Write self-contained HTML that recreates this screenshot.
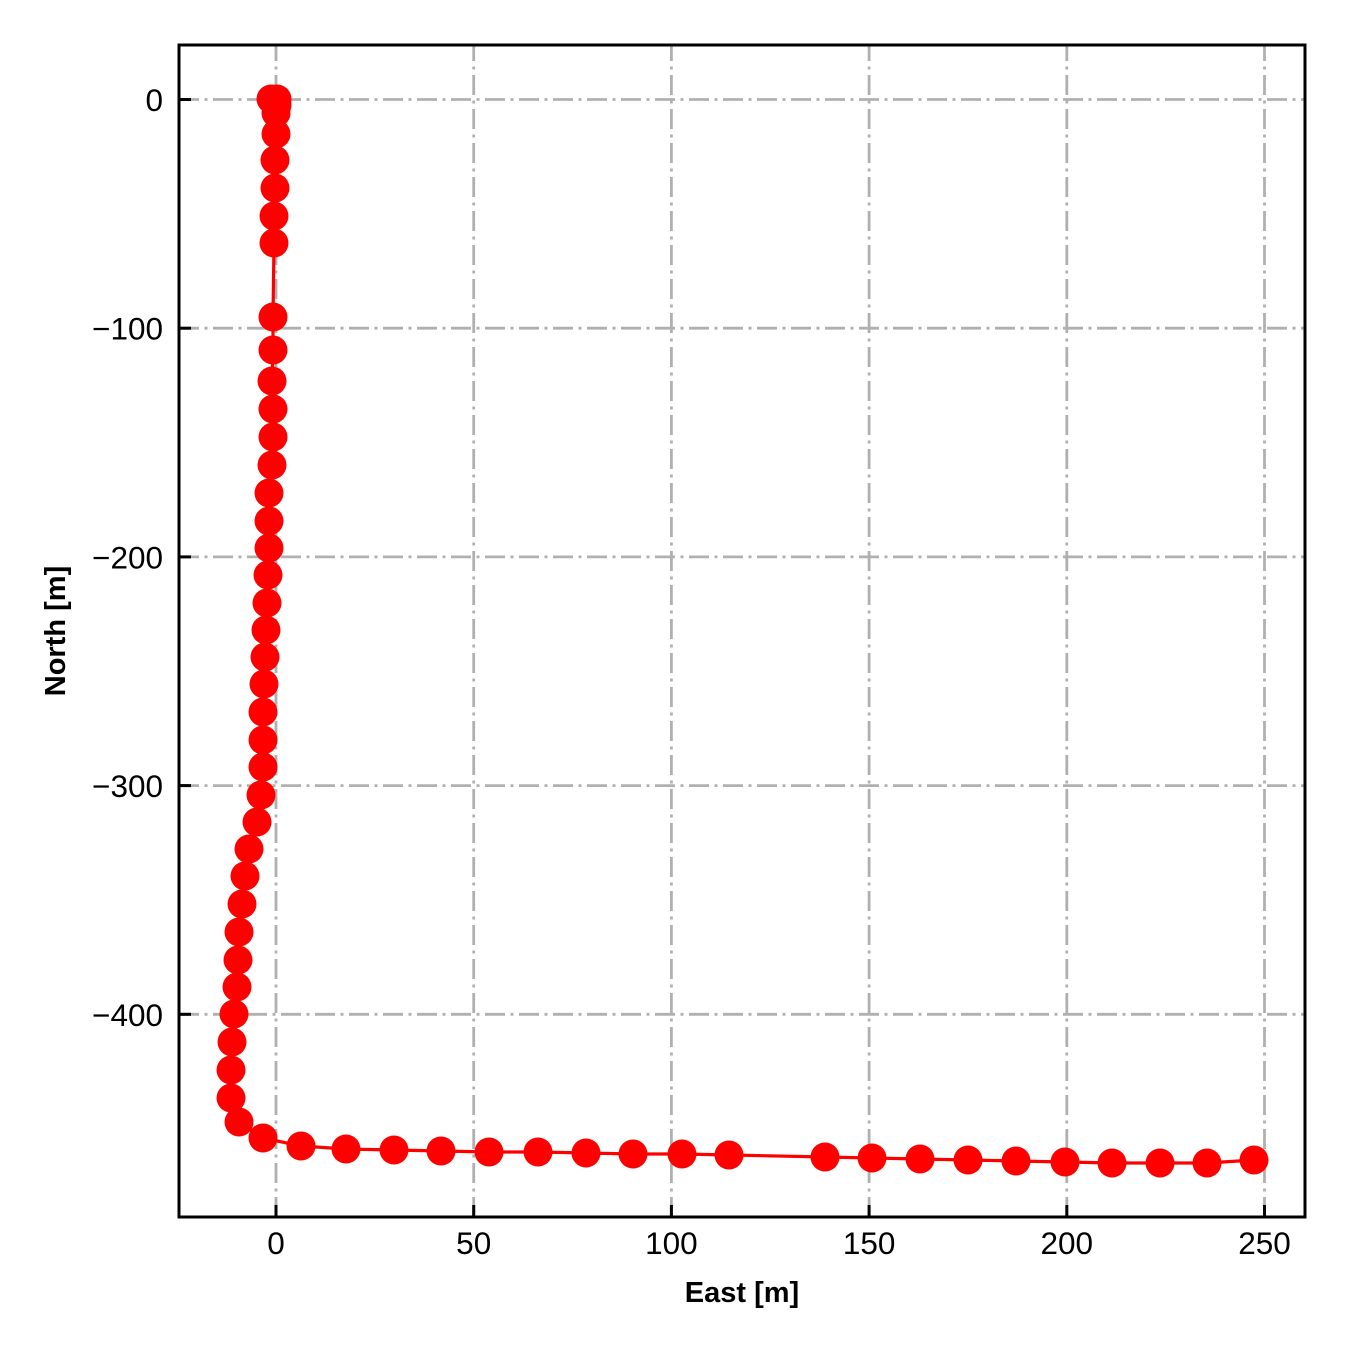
<!DOCTYPE html>
<html><head><meta charset="utf-8"><style>
html,body{margin:0;padding:0;background:#fff;}
svg{display:block;}
text{font-family:"Liberation Sans",Arial,sans-serif;fill:#000;}
</style></head><body>
<svg width="1350" height="1350" viewBox="0 0 1350 1350" xmlns="http://www.w3.org/2000/svg">
<rect x="0" y="0" width="1350" height="1350" fill="#fff"/>
<g stroke="#b0b0b0" stroke-width="2.8" stroke-dasharray="20 5.5 3 5.5" fill="none">
<line x1="179" y1="99.5" x2="1305" y2="99.5"/>
<line x1="179" y1="328.2" x2="1305" y2="328.2"/>
<line x1="179" y1="556.9" x2="1305" y2="556.9"/>
<line x1="179" y1="785.6" x2="1305" y2="785.6"/>
<line x1="179" y1="1014.3" x2="1305" y2="1014.3"/>
<line x1="276" y1="1217" x2="276" y2="45"/>
<line x1="473.7" y1="1217" x2="473.7" y2="45"/>
<line x1="671.4" y1="1217" x2="671.4" y2="45"/>
<line x1="869.1" y1="1217" x2="869.1" y2="45"/>
<line x1="1066.8" y1="1217" x2="1066.8" y2="45"/>
<line x1="1264.5" y1="1217" x2="1264.5" y2="45"/>
</g>
<polyline fill="none" stroke="#ff0000" stroke-width="3.2" stroke-linejoin="round" points="271,99 277,99 277,105 276,113 276,134 275,160 275,188 274,216 274,243 273,317 273,350 272,381 273,409 273,437 272,465 269,493 269,521 269,548 268,575 267,603 266,630 265,657 264,684 263,712 263,740 263,767 261,795 257,822 249,849 245,876 242,904 239,932 238,960 237,987 234,1014 232,1042 231,1070 231,1098 239,1122 263,1138 301,1146 346,1149 394,1150 441,1151 489,1152 538,1152 586,1153 633,1154 682,1154 729,1155 825,1157 872,1158 920,1159 968,1160 1016,1161 1065,1162 1112,1163 1160,1163 1207,1163 1254,1160"/>
<g fill="#ff0000">
<circle cx="271" cy="99" r="14.5"/><circle cx="277" cy="99" r="14.5"/><circle cx="277" cy="105" r="14.5"/><circle cx="276" cy="113" r="14.5"/>
<circle cx="276" cy="134" r="14.5"/><circle cx="275" cy="160" r="14.5"/><circle cx="275" cy="188" r="14.5"/><circle cx="274" cy="216" r="14.5"/>
<circle cx="274" cy="243" r="14.5"/><circle cx="273" cy="317" r="14.5"/><circle cx="273" cy="350" r="14.5"/><circle cx="272" cy="381" r="14.5"/>
<circle cx="273" cy="409" r="14.5"/><circle cx="273" cy="437" r="14.5"/><circle cx="272" cy="465" r="14.5"/><circle cx="269" cy="493" r="14.5"/>
<circle cx="269" cy="521" r="14.5"/><circle cx="269" cy="548" r="14.5"/><circle cx="268" cy="575" r="14.5"/><circle cx="267" cy="603" r="14.5"/>
<circle cx="266" cy="630" r="14.5"/><circle cx="265" cy="657" r="14.5"/><circle cx="264" cy="684" r="14.5"/><circle cx="263" cy="712" r="14.5"/>
<circle cx="263" cy="740" r="14.5"/><circle cx="263" cy="767" r="14.5"/><circle cx="261" cy="795" r="14.5"/><circle cx="257" cy="822" r="14.5"/>
<circle cx="249" cy="849" r="14.5"/><circle cx="245" cy="876" r="14.5"/><circle cx="242" cy="904" r="14.5"/><circle cx="239" cy="932" r="14.5"/>
<circle cx="238" cy="960" r="14.5"/><circle cx="237" cy="987" r="14.5"/><circle cx="234" cy="1014" r="14.5"/><circle cx="232" cy="1042" r="14.5"/>
<circle cx="231" cy="1070" r="14.5"/><circle cx="231" cy="1098" r="14.5"/><circle cx="239" cy="1122" r="14.5"/><circle cx="263" cy="1138" r="14.5"/>
<circle cx="301" cy="1146" r="14.5"/><circle cx="346" cy="1149" r="14.5"/><circle cx="394" cy="1150" r="14.5"/><circle cx="441" cy="1151" r="14.5"/>
<circle cx="489" cy="1152" r="14.5"/><circle cx="538" cy="1152" r="14.5"/><circle cx="586" cy="1153" r="14.5"/><circle cx="633" cy="1154" r="14.5"/>
<circle cx="682" cy="1154" r="14.5"/><circle cx="729" cy="1155" r="14.5"/><circle cx="825" cy="1157" r="14.5"/><circle cx="872" cy="1158" r="14.5"/>
<circle cx="920" cy="1159" r="14.5"/><circle cx="968" cy="1160" r="14.5"/><circle cx="1016" cy="1161" r="14.5"/><circle cx="1065" cy="1162" r="14.5"/>
<circle cx="1112" cy="1163" r="14.5"/><circle cx="1160" cy="1163" r="14.5"/><circle cx="1207" cy="1163" r="14.5"/><circle cx="1254" cy="1160" r="14.5"/>
</g>
<g stroke="#000" stroke-width="3">
<line x1="179" y1="99.5" x2="191" y2="99.5"/>
<line x1="179" y1="328.2" x2="191" y2="328.2"/>
<line x1="179" y1="556.9" x2="191" y2="556.9"/>
<line x1="179" y1="785.6" x2="191" y2="785.6"/>
<line x1="179" y1="1014.3" x2="191" y2="1014.3"/>
<line x1="276" y1="1217" x2="276" y2="1205"/>
<line x1="473.7" y1="1217" x2="473.7" y2="1205"/>
<line x1="671.4" y1="1217" x2="671.4" y2="1205"/>
<line x1="869.1" y1="1217" x2="869.1" y2="1205"/>
<line x1="1066.8" y1="1217" x2="1066.8" y2="1205"/>
<line x1="1264.5" y1="1217" x2="1264.5" y2="1205"/>
</g>
<rect x="179" y="45" width="1126" height="1172" fill="none" stroke="#000" stroke-width="3"/>
<g font-size="31.5" text-anchor="end">
<text x="163" y="111">0</text>
<text x="163" y="339.7">−100</text>
<text x="163" y="568.4">−200</text>
<text x="163" y="797.1">−300</text>
<text x="163" y="1025.8">−400</text>
</g>
<g font-size="31.5" text-anchor="middle">
<text x="276" y="1254">0</text>
<text x="473.7" y="1254">50</text>
<text x="671.4" y="1254">100</text>
<text x="869.1" y="1254">150</text>
<text x="1066.8" y="1254">200</text>
<text x="1264.5" y="1254">250</text>
</g>
<text x="742" y="1302" font-size="29" font-weight="bold" text-anchor="middle">East [m]</text>
<text transform="translate(65,631) rotate(-90)" font-size="29" font-weight="bold" text-anchor="middle">North [m]</text>
</svg>
</body></html>
